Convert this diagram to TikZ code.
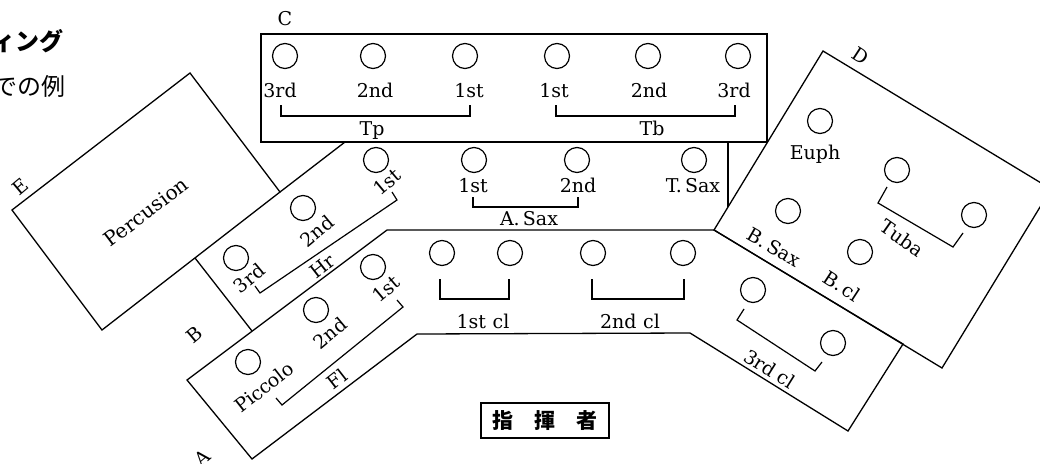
\documentclass[tikz,border=0pt]{standalone}
\usepackage{fontspec}
\newfontfamily\labfont{DejaVu Serif}
\newfontfamily\jpfont{Noto Sans CJK JP}
\begin{document}
\begin{tikzpicture}[x=1pt,y=-1pt,
  wall/.style={line width=1.3pt, line join=miter},
  seat/.style={circle, draw, line width=1.2pt, minimum size=25pt, inner sep=0pt},
  lab/.style={font=\labfont\fontsize{19}{21}\selectfont, inner sep=0pt},
  biglab/.style={font=\labfont\fontsize{20}{22}\selectfont, inner sep=0pt},
  zone/.style={font=\labfont\fontsize{19}{21}\selectfont, inner sep=0pt},
  brk/.style={line width=1.2pt}]
\useasboundingbox (0,0) rectangle (1040,463);
\clip (0,0) rectangle (1040,463);

% ---------- walls ----------
\coordinate (C1) at (261,34); \coordinate (C2) at (767,142);
\draw[wall] (C1) rectangle (C2);
\coordinate (Dt) at (823,51); \coordinate (Dr) at (1051,189);
\coordinate (Db) at (942,368); \coordinate (Dl) at (714,230);
\draw[wall] (Dt) -- (Dr) -- (Db) -- (Dl) -- cycle;
\coordinate (Vt) at (728,142); \coordinate (Vb) at (728,207);
\draw[wall] (Vt) -- (Vb);
\coordinate (El) at (12,210); \coordinate (Et) at (190,73);
\coordinate (Er) at (280,192); \coordinate (Eb) at (102,330);
\draw[wall] (El) -- (Et) -- (Er) -- (Eb) -- cycle;
\coordinate (Hc) at (345,142);
\draw[wall] (Er) -- (Hc);
\coordinate (Bt) at (195,258); \coordinate (Bb) at (252,331);
\draw[wall] (Bt) -- (Bb);
\coordinate (Al) at (187,380); \coordinate (Fa) at (387,230);
\coordinate (Ce) at (903,344); \coordinate (Cb) at (848,431);
\coordinate (Cr) at (690,333); \coordinate (Cl) at (417,334);
\coordinate (Ab) at (252,459);
\draw[wall] (Al) -- (Fa) -- (Dl) -- (Ce) -- (Cb) -- (Cr) -- (Cl) -- (Ab) -- cycle;

% ---------- zone letters ----------
\node[zone] (zC) at (285,19) {C};
\node[zone, rotate=-33] (zD) at (861,56) {D};
\node[zone, rotate=40] (zE) at (20,187) {E};
\node[zone, rotate=40] (zB) at (194,335) {B};
\node[zone, rotate=40] (zA) at (202,458) {A};

% ---------- title fragments ----------
\node[anchor=east, inner sep=0pt, font=\jpfont\bfseries\fontsize{24}{24}\selectfont] (t1) at (64,41) {ィング};
\node[anchor=east, inner sep=0pt, font=\jpfont\fontsize{24}{24}\selectfont] (t2) at (66,86) {での例};

% ---------- C : Tp / Tb ----------
\node[seat] (tp3) at (285,56) {};
\node[seat] (tp2) at (373,56) {};
\node[seat] (tp1) at (465,56) {};
\node[seat] (tb1) at (557,56) {};
\node[seat] (tb2) at (648,56) {};
\node[seat] (tb3) at (738,56) {};
\node[lab, anchor=base] (ltp3) at (280,97) {3rd};
\node[lab, anchor=base] (ltp2) at (375,97) {2nd};
\node[lab, anchor=base] (ltp1) at (469,97) {1st};
\node[lab, anchor=base] (ltb1) at (554,97) {1st};
\node[lab, anchor=base] (ltb2) at (649,97) {2nd};
\node[lab, anchor=base] (ltb3) at (734,97) {3rd};
\draw[brk] (281,105) -- (281,116) -- (470,116) -- (470,105);
\draw[brk] (556,105) -- (556,116) -- (735,116) -- (735,105);
\node[lab, anchor=base] (lTp) at (372,135) {Tp};
\node[lab, anchor=base] (lTb) at (652,135) {Tb};

% ---------- Sax ----------
\node[seat] (as1) at (474,160) {};
\node[seat] (as2) at (577,160) {};
\node[seat] (ts) at (694,160) {};
\node[lab, anchor=base] (las1) at (473,192) {1st};
\node[lab, anchor=base] (las2) at (578,192) {2nd};
\node[lab, anchor=base] (lts) at (693,192) {T.\,Sax};
\draw[brk] (473,197) -- (473,207) -- (578,207) -- (578,197);
\node[lab, anchor=base] (lAS) at (529,225) {A.\,Sax};

% ---------- Hr ----------
\node[seat] (hr1) at (376,160) {};
\node[seat] (hr2) at (303,208) {};
\node[seat] (hr3) at (236,258) {};
\node[lab, rotate=40] (lhr1) at (387,182) {1st};
\node[lab, rotate=40] (lhr2) at (317,231) {2nd};
\node[lab, rotate=40] (lhr3) at (249,278) {3rd};
\draw[brk] (392,192) -- (397,200) -- (260,293) -- (255,286);
\node[lab, rotate=38] (lHr) at (322,266) {Hr};

% ---------- Fl ----------
\node[seat] (fl1) at (373,267) {};
\node[seat] (fl2) at (316,310) {};
\node[seat] (pic) at (248,362) {};
\node[lab, rotate=40] (lfl1) at (386,289) {1st};
\node[lab, rotate=40] (lfl2) at (330,333) {2nd};
\node[lab, rotate=38] (lpic) at (264,387) {Piccolo};
\draw[brk] (397,300) -- (403,307) -- (282,405) -- (276,398);
\node[lab, rotate=38] (lFl) at (337,379) {Fl};

% ---------- Percussion ----------
\node[biglab, rotate=37] (perc) at (146,212) {Percusion};

% ---------- clarinets ----------
\node[seat] (c11) at (442,253) {};
\node[seat] (c12) at (510,253) {};
\node[seat] (c21) at (593,253) {};
\node[seat] (c22) at (683,253) {};
\draw[brk] (440,279) -- (440,299) -- (509,299) -- (509,279);
\draw[brk] (592,279) -- (592,299) -- (684,299) -- (684,279);
\node[lab, anchor=base] (lc1) at (483,328) {1st\hspace{0.35em}cl};
\node[lab, anchor=base] (lc2) at (630,328) {2nd\hspace{0.35em}cl};
\node[seat] (c31) at (753,290) {};
\node[seat] (c32) at (833,343) {};
\draw[brk] (744,309) -- (737,320) -- (815,371) -- (822,362);
\node[lab, rotate=-32] (lc3) at (770,369) {3rd\hspace{0.3em}cl};

% ---------- D ----------
\node[seat] (eu) at (820,121) {};
\node[lab] (leu) at (815,154) {Euph};
\node[seat] (tu1) at (897,170) {};
\node[seat] (tu2) at (974,215) {};
\draw[brk] (887,187) -- (878,203) -- (953,247) -- (963,233);
\node[lab, rotate=-35] (ltu) at (902,238) {Tuba};
\node[seat] (bs) at (788,211) {};
\node[lab, rotate=-30] (lbs) at (774,247) {B.\,Sax};
\node[seat] (bc) at (860,252) {};
\node[lab, rotate=-33] (lbc) at (842,286) {B.\,cl};

% ---------- conductor ----------
\node[draw, line width=1.2pt, minimum width=128pt, minimum height=35pt, inner sep=0pt,
      font=\jpfont\bfseries\fontsize{21}{21}\selectfont] (cond) at (545,420.5) {指　揮　者};
\end{tikzpicture}
\end{document}
